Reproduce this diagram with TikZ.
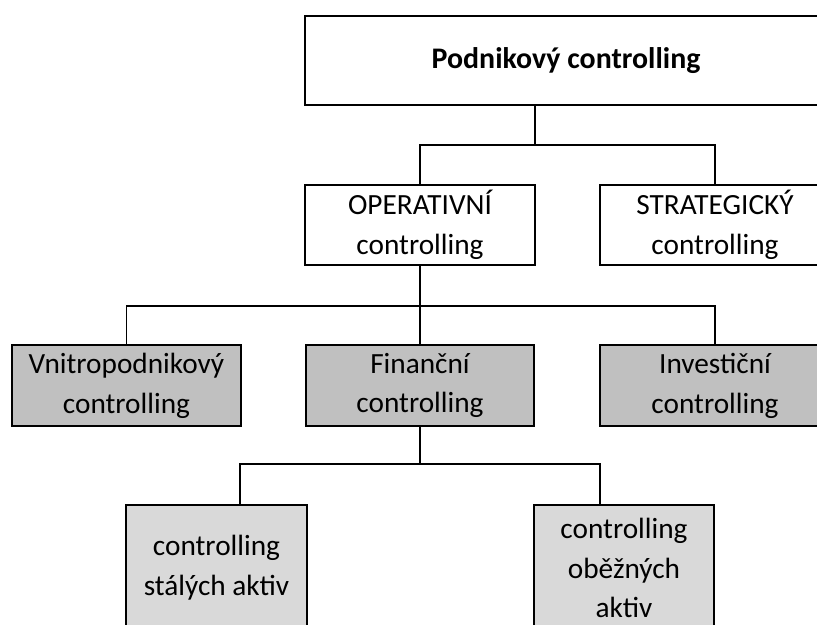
\documentclass[tikz,border=0pt]{standalone}
\usepackage{fontspec}
\setmainfont{Carlito}
\usepackage{tikz}
\usetikzlibrary{calc}

\definecolor{boxgray}{HTML}{C0C0C0}
\definecolor{boxlight}{HTML}{D9D9D9}

\begin{document}
\begin{tikzpicture}[x=0.03cm,y=-0.03cm,line width=1.5pt,
    box/.style={draw,align=center,inner sep=0pt,font=\fontsize{25}{34}\selectfont},
    mid/.style={box,fill=boxgray},
    low/.style={box,fill=boxlight}]
  \clip (0,0) rectangle (817,625);
  % level 1
  \node[box,font=\fontsize{25.5}{34}\selectfont\bfseries,minimum width=15.66cm,minimum height=2.67cm] (podnik) at (566,60.5) {Podnikový controlling};
  % level 2
  \node[box,minimum width=6.9cm,minimum height=2.4cm] (oper) at (420,225) {OPERATIVNÍ\\controlling};
  \node[box,minimum width=6.9cm,minimum height=2.4cm] (strat) at (715,225) {STRATEGICKÝ\\controlling};
  % level 3
  \node[mid,minimum width=6.87cm,minimum height=2.43cm] (vnitro) at (126.5,385.5) {Vnitropodnikový\\controlling};
  \node[mid,minimum width=6.84cm,minimum height=2.43cm] (financ) at (420,385.5) {Finanční\\controlling};
  \node[mid,minimum width=6.9cm,minimum height=2.43cm] (invest) at (715,385.5) {Investiční\\controlling};
  % level 4
  \node[low,minimum width=5.43cm,minimum height=3.78cm] (stala) at (216.5,568) {controlling\\stálých aktiv};
  \node[low,minimum width=5.4cm,minimum height=3.78cm] (obezna) at (624,568) {controlling\\oběžných\\aktiv};

  \coordinate (podnikout) at (podnik.south -| 535,0);
  \coordinate (stalain) at (stala.north -| 240,0);
  \coordinate (obeznain) at (obezna.north -| 600,0);

  % connectors
  \draw (podnikout) -- ++(0,39) coordinate (j1) -| (oper.north);
  \draw (j1) -| (strat.north);
  \draw (oper.south) -- ++(0,40) coordinate (j2) -| (vnitro.north);
  \draw (j2) -- (financ.north);
  \draw (j2) -| (invest.north);
  \draw (financ.south) -- ++(0,37) coordinate (j3) -| (stalain);
  \draw (j3) -| (obeznain);
\end{tikzpicture}
\end{document}
